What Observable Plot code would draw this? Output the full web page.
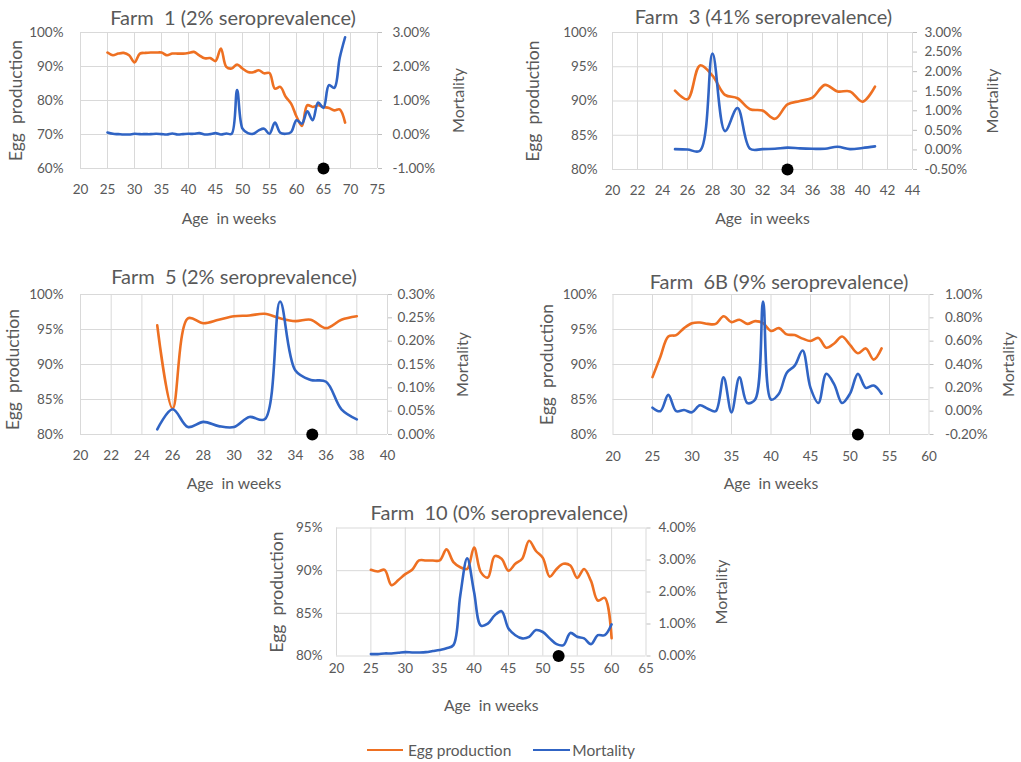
<!DOCTYPE html>
<html>
<head>
<meta charset="utf-8">
<script src="https://cdn.jsdelivr.net/npm/d3@7"></script>
<script src="https://cdn.jsdelivr.net/npm/@observablehq/plot@0.6"></script>
<style>
  body { margin: 0; background: #fff; }
  #root { position: relative; width: 1021px; height: 762px; overflow: hidden; font-family: Lato, "Liberation Sans", sans-serif; color: #595959; }
  .panel { position: absolute; }
  svg text { white-space: pre; }
  #legend { position: absolute; top: 741px; left: 367px; font-size: 15.5px; display: flex; align-items: center; white-space: pre; }
  .sw { display: inline-block; height: 2.5px; }
</style>
</head>
<body>
<div id="root"></div>
<script>
// ---------- data ----------
const farm1Weeks = [25,26,27,28,29,30,31,32,33,34,35,36,37,38,39,40,41,42,43,44,45,46,47,48,49,50,51,52,53,54,55,56,57,58,59,60,61,62,63,64,65,66,67,68,69];
const farm1Egg = [94.1,93.3,93.8,94.0,93.3,91.2,93.8,94.0,94.1,94.1,94.1,93.3,93.8,93.8,93.8,94.0,94.3,93.3,92.4,92.5,91.6,95.3,89.9,89.4,90.6,89.4,88.4,88.3,88.9,88.0,88.1,83.5,84.0,81.1,79.1,75.3,72.5,78.6,78.1,78.6,78.1,77.8,77.1,77.4,73.5];
const farm1Mort = [0.06,0.02,0.01,0.0,0.0,0.02,0.01,0.01,0.01,0.02,0.01,0.0,0.03,0.0,0.01,0.02,0.02,0.04,0.0,0.01,0.04,0.0,0.03,0.02,1.31,0.17,0.04,0.02,0.12,0.17,0.02,0.35,0.05,0.02,0.07,0.42,0.32,0.68,0.42,0.94,0.78,1.45,1.37,2.25,2.86];

const farm3Weeks = [25,26,27,28,29,30,31,32,33,34,35,36,37,38,39,40,41];
const farm3Egg = [91.5,90.25,95.2,93.7,90.9,90.4,88.8,88.6,87.4,89.5,90.0,90.5,92.35,91.4,91.4,89.9,92.1];
const farm3Mort = [0.02,0.01,-0.02,2.46,0.48,1.07,0.03,0.02,0.03,0.06,0.04,0.03,0.03,0.08,0.02,0.05,0.09];

const farm5Weeks = [25,26,27,28,29,30,31,32,33,34,35,36,37,38];
const farm5Egg = [95.6,83.7,96.6,95.9,96.4,96.9,97.0,97.25,96.6,96.2,96.4,95.2,96.4,96.9];
const farm5Mort = [0.011,0.054,0.016,0.027,0.018,0.016,0.0375,0.0325,0.285,0.137,0.117,0.113,0.054,0.0325];

const farm6BWeeks = [25,26,27,28,29,30,31,32,33,34,35,36,37,38,39,40,41,42,43,44,45,46,47,48,49,50,51,52,53,54];
const farm6BEgg = [88.2,91.1,94.0,94.2,95.2,95.9,96.0,95.8,95.8,96.9,96.05,96.4,95.8,96.2,95.9,94.8,95.2,94.3,94.2,93.7,93.35,93.8,92.4,93.0,94.0,92.8,91.6,92.3,90.7,92.3];
const farm6BMort = [0.03,0.0,0.14,0.0,0.01,-0.01,0.05,0.02,0.0,0.29,-0.01,0.29,0.07,0.10,0.94,0.10,0.15,0.33,0.39,0.52,0.20,0.07,0.32,0.23,0.07,0.15,0.32,0.20,0.22,0.15];

const farm10Weeks = [25,26,27,28,29,30,31,32,33,34,35,36,37,38,39,40,41,42,43,44,45,46,47,48,49,50,51,52,53,54,55,56,57,58,59,60];
const farm10Egg = [90.1,89.9,90.1,88.3,88.9,89.6,90.1,91.2,91.2,91.2,91.2,92.5,91.0,90.4,90.2,92.7,89.8,89.2,91.7,91.4,90.0,90.8,91.4,93.5,92.3,91.5,89.3,90.2,90.8,90.6,89.15,90.2,88.8,86.5,86.8,82.1];
const farm10Mort = [0.06,0.06,0.08,0.08,0.1,0.12,0.11,0.11,0.12,0.155,0.19,0.24,0.34,1.9,3.05,2.0,0.95,1.01,1.27,1.40,0.86,0.65,0.55,0.6,0.81,0.75,0.55,0.37,0.34,0.72,0.6,0.55,0.37,0.65,0.65,0.99];

const titles = ["Farm  1 (2% seroprevalence)", "Farm  3 (41% seroprevalence)", "Farm  5 (2% seroprevalence)", "Farm  6B (9% seroprevalence)", "Farm  10 (0% seroprevalence)"];
const eggTicks1 = [60,70,80,90,100];
const eggTicks3 = [80,85,90,95,100];
const eggTicks10 = [80,85,90,95];
const mortTicks1 = [-1,0,1,2,3];
const mortTicks3 = [-0.5,0,0.5,1,1.5,2,2.5,3];
const mortTicks5 = [0,0.05,0.1,0.15,0.2,0.25,0.3];
const mortTicks6B = [-0.2,0,0.2,0.4,0.6,0.8,1.0];
const mortTicks10 = [0,1,2,3,4];
const xTicks1 = [20,25,30,35,40,45,50,55,60,65,70,75];
const xTicks3 = [20,22,24,26,28,30,32,34,36,38,40,42,44];
const xTicks5 = [20,22,24,26,28,30,32,34,36,38,40];
const xTicks6B = [20,25,30,35,40,45,50,55,60];
const xTicks10 = [20,25,30,35,40,45,50,55,60,65];
const eventWeeks = [65, 34, 35.1, 51, 52.3];
const seriesNames = ["Egg production", "Mortality"];
const yLabelLeft = "Egg  production";
const yLabelRight = "Mortality";
const xLabel = "Age  in weeks";

const ORANGE = "#ee7022";
const BLUE = "#3064c4";
const GRID = "#d9d9d9";
const TXT = "#595959";

function fmtMort(m) {
  let v = Math.round(m * 100) / 100;
  if (Math.abs(v) < 1e-9) v = 0;
  return v.toFixed(2) + "%";
}

function panel(cfg) {
  const rows = cfg.weeks.map((w, i) => ({week: w, egg: cfg.egg[i], mort: cfg.mort[i]}));
  const eggDomain = [cfg.eggTicks[0], cfg.eggTicks[cfg.eggTicks.length - 1]];
  const mortDomain = [cfg.mortTicks[0], cfg.mortTicks[cfg.mortTicks.length - 1]];
  const toEgg = d3.scaleLinear().domain(mortDomain).range(eggDomain);
  const xDomain = [cfg.xTicks[0], cfg.xTicks[cfg.xTicks.length - 1]];
  const g = cfg.geo;
  const chart = Plot.plot({
    width: g.w, height: g.h,
    marginLeft: g.ml, marginRight: g.mr, marginTop: g.mt, marginBottom: g.mb,
    style: {fontFamily: 'Lato, "Liberation Sans", sans-serif', fontSize: "13.5px", color: TXT, background: "transparent", overflow: "visible"},
    x: {domain: xDomain},
    y: {domain: eggDomain},
    marks: [
      Plot.gridX({ticks: cfg.xTicks, stroke: GRID, strokeOpacity: 1}),
      Plot.gridY({ticks: cfg.eggTicks, stroke: GRID, strokeOpacity: 1}),
      Plot.axisX({ticks: cfg.xTicks, tickSize: 0, tickPadding: g.xPad, tickFormat: d => String(d), label: null, fill: TXT}),
      Plot.axisY({ticks: cfg.eggTicks, tickSize: 0, tickPadding: g.lPad, tickFormat: d => d + "%", label: null, fill: TXT}),
      Plot.axisY({anchor: "right", ticks: cfg.mortTicks.map(m => toEgg(m)), tickSize: 4, stroke: "#bfbfbf", tickPadding: g.rPad, tickFormat: v => fmtMort(toEgg.invert(v)), label: null, fill: TXT}),
      Plot.line(rows, {x: "week", y: "egg", stroke: ORANGE, strokeWidth: 2.6, curve: "catmull-rom"}),
      Plot.line(rows, {x: "week", y: d => toEgg(d.mort), stroke: BLUE, strokeWidth: 2.6, curve: "catmull-rom"}),
      Plot.dot([cfg.event], {x: d => d, y: () => eggDomain[0], r: 6, fill: "black", stroke: "none"}),
      Plot.text([cfg.title], {frameAnchor: "top", textAnchor: "middle", dx: g.tdx, dy: g.tdy, fontSize: 20, fill: TXT, lineAnchor: "middle"}),
      Plot.text([yLabelLeft], {frameAnchor: "left", textAnchor: "middle", rotate: -90, dx: g.ylx, dy: g.yly || 0, fontSize: 17.5, fill: TXT, lineAnchor: "middle"}),
      Plot.text([yLabelRight], {frameAnchor: "right", textAnchor: "middle", rotate: -90, dx: g.yrx, fontSize: 16, fill: TXT, lineAnchor: "middle"}),
      Plot.text([xLabel], {frameAnchor: "bottom", textAnchor: "middle", dx: g.xlx || 0, dy: g.xly, fontSize: 15.7, fill: TXT, lineAnchor: "middle"})
    ]
  });
  const wrap = document.createElement("div");
  wrap.className = "panel";
  wrap.style.left = g.left + "px";
  wrap.style.top = g.top + "px";
  wrap.appendChild(chart);
  document.getElementById("root").appendChild(wrap);
}

panel({weeks: farm1Weeks, egg: farm1Egg, mort: farm1Mort, eggTicks: eggTicks1, mortTicks: mortTicks1, xTicks: xTicks1, event: eventWeeks[0], title: titles[0],
  geo: {left: 0, top: 0, w: 480, h: 235, ml: 80, mr: 103, mt: 32, mb: 67, xPad: 16, lPad: 17, rPad: 11, tdx: 4, tdy: -14, ylx: -64, yrx: 81, xly: 50}});
panel({weeks: farm3Weeks, egg: farm3Egg, mort: farm3Mort, eggTicks: eggTicks3, mortTicks: mortTicks3, xTicks: xTicks3, event: eventWeeks[1], title: titles[1],
  geo: {left: 500, top: 0, w: 521, h: 235, ml: 112, mr: 109, mt: 32, mb: 66, xPad: 16, lPad: 15, rPad: 8, tdx: 1, tdy: -15, ylx: -79, yrx: 80, xly: 49}});
panel({weeks: farm5Weeks, egg: farm5Egg, mort: farm5Mort, eggTicks: eggTicks3, mortTicks: mortTicks5, xTicks: xTicks5, event: eventWeeks[2], title: titles[2],
  geo: {left: 0, top: 245, w: 480, h: 250, ml: 80, mr: 93, mt: 49, mb: 61, xPad: 16, lPad: 17, rPad: 6, tdx: 0, tdy: -17, ylx: -67, yly: 5, yrx: 75, xly: 49}});
panel({weeks: farm6BWeeks, egg: farm6BEgg, mort: farm6BMort, eggTicks: eggTicks3, mortTicks: mortTicks6B, xTicks: xTicks6B, event: eventWeeks[3], title: titles[3],
  geo: {left: 500, top: 245, w: 521, h: 250, ml: 112.5, mr: 92.5, mt: 49, mb: 61, xPad: 17, lPad: 16, rPad: 12, tdx: 8, tdy: -12, ylx: -66, yrx: 80, xly: 49}});
panel({weeks: farm10Weeks, egg: farm10Egg, mort: farm10Mort, eggTicks: eggTicks10, mortTicks: mortTicks10, xTicks: xTicks10, event: eventWeeks[4], title: titles[4],
  geo: {left: 260, top: 490, w: 480, h: 230, ml: 76, mr: 94.5, mt: 37.5, mb: 64.5, xPad: 7, lPad: 14, rPad: 8.5, tdx: 8, tdy: -14.5, ylx: -59, yrx: 75.5, xly: 49.5}});

// legend
const legend = document.createElement("div");
legend.id = "legend";
legend.innerHTML =
  `<span class="sw" style="width:36px;background:${ORANGE}"></span><span style="margin-left:5px">${seriesNames[0]}</span>` +
  `<span class="sw" style="width:37px;background:${BLUE};margin-left:22px"></span><span style="margin-left:2px">${seriesNames[1]}</span>`;
document.getElementById("root").appendChild(legend);
</script>
</body>
</html>
